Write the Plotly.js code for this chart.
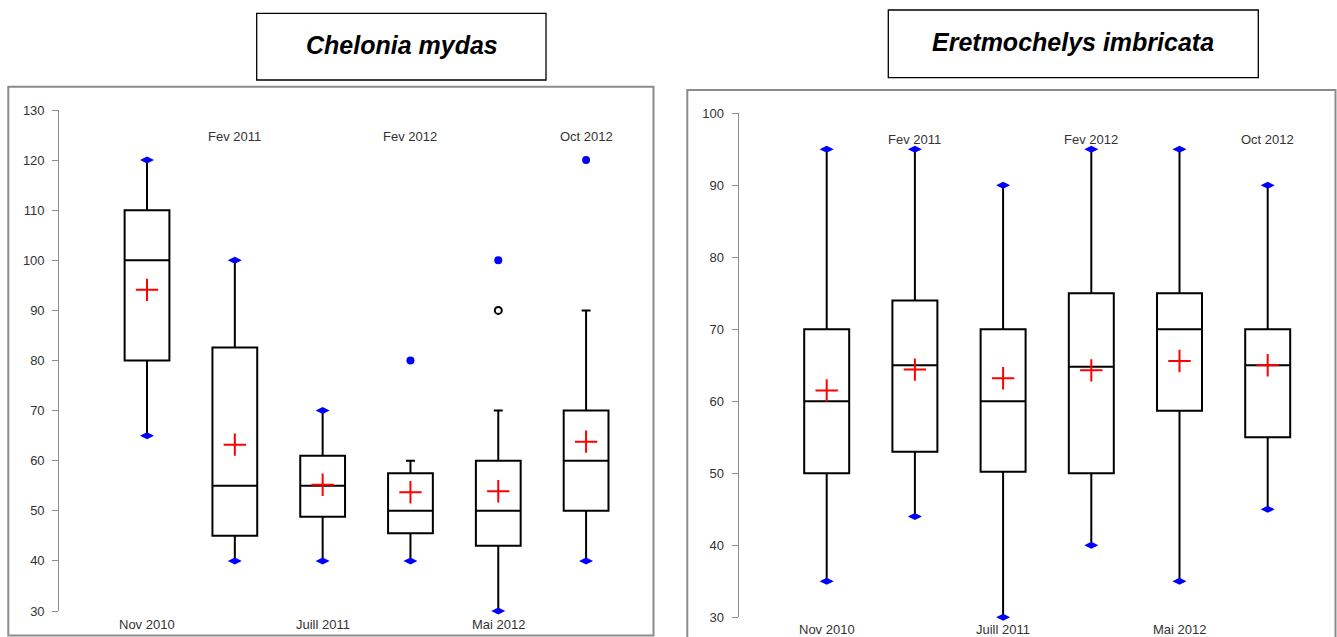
<!DOCTYPE html>
<html>
<head>
<meta charset="utf-8">
<script src="https://cdn.plot.ly/plotly-3.0.1.min.js"></script>
<style>
  html, body { margin: 0; padding: 0; background: #ffffff; }
  #chart { width: 1337px; height: 637px; }
</style>
</head>
<body>
<div id="chart"></div>
<script>
// ---------- DATA ----------
const categories = ['Nov 2010', 'Fev 2011', 'Juill 2011', 'Fev 2012', 'Mai 2012', 'Oct 2012'];

// Chelonia mydas
const cmTitle = 'Chelonia mydas';
const cmLowerWhisker = [65, 40, 40, 40, 30, 40];
const cmQ1           = [80, 45, 48.8, 45.5, 43, 50];
const cmMedian       = [100, 55, 55, 50, 50, 60];
const cmQ3           = [110, 82.6, 61, 57.5, 60, 70];
const cmUpperWhisker = [120, 100, 70, 60, 70, 90];
const cmMean         = [94.1, 63.2, 55.2, 53.7, 53.9, 63.8];
const cmMinMarker    = [65, 40, 40, 40, 30, 40];
const cmMaxMarker    = [120, 100, 70, null, null, null];
const cmOutlierCat   = ['Fev 2012', 'Mai 2012', 'Oct 2012'];
const cmOutlierVal   = [80, 100, 120];
const cmOpenOutCat   = ['Mai 2012'];
const cmOpenOutVal   = [90];
const cmTicks        = [30, 40, 50, 60, 70, 80, 90, 100, 110, 120, 130];

// Eretmochelys imbricata
const eiTitle = 'Eretmochelys imbricata';
const eiLowerWhisker = [35, 44, 30, 40, 35, 45];
const eiQ1           = [50, 53, 50.2, 50, 58.7, 55];
const eiMedian       = [60, 65, 60, 64.8, 70, 65];
const eiQ3           = [70, 74, 70, 75, 75, 70];
const eiUpperWhisker = [95, 95, 90, 95, 95, 90];
const eiMean         = [61.5, 64.4, 63.2, 64.3, 65.6, 65];
const eiMinMarker    = [35, 44, 30, 40, 35, 45];
const eiMaxMarker    = [95, 95, 90, 95, 95, 90];
const eiTicks        = [30, 40, 50, 60, 70, 80, 90, 100];

// ---------- LAYOUT HELPERS ----------
const W = 1337, H = 637;
const px = v => v / W;
const py = v => 1 - v / H;
const idx = categories.map((c, i) => i);
const catIndex = c => categories.indexOf(c);
const FONT = '"Liberation Sans", Arial, sans-serif';

function boxTrace(q1, med, q3, lo, hi, xa, ya) {
  return {
    type: 'box', x: idx, q1: q1, median: med, q3: q3,
    lowerfence: lo, upperfence: hi,
    width: 0.51, whiskerwidth: 0.2, boxpoints: false,
    line: { color: '#000000', width: 2 },
    fillcolor: 'rgba(255,255,255,0)',
    xaxis: xa, yaxis: ya, showlegend: false, hoverinfo: 'skip'
  };
}
function markerTrace(xs, ys, marker, xa, ya) {
  return { type: 'scatter', mode: 'markers', x: xs, y: ys, marker: marker,
           xaxis: xa, yaxis: ya, showlegend: false, cliponaxis: false, hoverinfo: 'skip' };
}
const diamond = { symbol: 'diamond-wide', size: 10, color: '#0000ff' };
const meanMk  = { symbol: 'cross-thin', size: 16, color: '#ff0000', line: { color: '#ff0000', width: 2 } };
const dotMk   = { symbol: 'circle', size: 8, color: '#0000ff' };
const openMk  = { symbol: 'circle-open', size: 7, color: '#000000', line: { color: '#000000', width: 2 } };

const data = [
  boxTrace(cmQ1, cmMedian, cmQ3, cmLowerWhisker, cmUpperWhisker, 'x', 'y'),
  markerTrace(idx, cmMinMarker, diamond, 'x', 'y'),
  markerTrace(idx, cmMaxMarker, diamond, 'x', 'y'),
  markerTrace(cmOutlierCat.map(catIndex), cmOutlierVal, dotMk, 'x', 'y'),
  markerTrace(cmOpenOutCat.map(catIndex), cmOpenOutVal, openMk, 'x', 'y'),
  markerTrace(idx, cmMean, meanMk, 'x', 'y'),

  boxTrace(eiQ1, eiMedian, eiQ3, eiLowerWhisker, eiUpperWhisker, 'x2', 'y2'),
  markerTrace(idx, eiMinMarker, diamond, 'x2', 'y2'),
  markerTrace(idx, eiMaxMarker, diamond, 'x2', 'y2'),
  markerTrace(idx, eiMean, meanMk, 'x2', 'y2')
];

function xAxis(d0, d1, anchor) {
  return { domain: [px(d0), px(d1)], range: [-1, 5.5], anchor: anchor,
           showline: false, showgrid: false, zeroline: false, showticklabels: false, ticks: '' , fixedrange: true };
}
function yAxis(top, bottom, range, ticks, anchor) {
  return { domain: [py(bottom), py(top)], range: range, anchor: anchor,
           tickvals: ticks, ticktext: ticks.map(String),
           showline: true, linecolor: '#8c8c8c', linewidth: 1,
           ticks: 'outside', ticklen: 6, tickcolor: '#8c8c8c', tickwidth: 1,
           ticklabelstandoff: 5,
           showgrid: false, zeroline: false,
           tickfont: { family: FONT, size: 13, color: '#333333' }, fixedrange: true };
}

const annotations = [];
categories.forEach((c, i) => {
  const top = i % 2 === 1;
  annotations.push({ xref: 'x', yref: 'paper', x: i, y: top ? py(136) : py(624),
    text: c, showarrow: false, yanchor: 'middle', xanchor: 'center',
    font: { family: FONT, size: 13, color: '#333333' } });
  annotations.push({ xref: 'x2', yref: 'paper', x: i, y: top ? py(139) : py(629.5),
    text: c, showarrow: false, yanchor: 'middle', xanchor: 'center',
    font: { family: FONT, size: 13, color: '#333333' } });
});
annotations.push({ xref: 'paper', yref: 'paper', x: px(401.5), y: py(45), text: '<b><i>' + cmTitle + '</i></b>',
  showarrow: false, xanchor: 'center', yanchor: 'middle', font: { family: FONT, size: 25, color: '#000000' } });
annotations.push({ xref: 'paper', yref: 'paper', x: px(1073.3), y: py(42), text: '<b><i>' + eiTitle + '</i></b>',
  showarrow: false, xanchor: 'center', yanchor: 'middle', font: { family: FONT, size: 25, color: '#000000' } });

const shapes = [
  { type: 'rect', xref: 'paper', yref: 'paper', x0: px(8.3), x1: px(653.5), y0: py(635.5), y1: py(86.7),
    line: { color: '#8c8c8c', width: 2 }, fillcolor: 'rgba(0,0,0,0)', layer: 'below' },
  { type: 'rect', xref: 'paper', yref: 'paper', x0: px(687.3), x1: px(1335.5), y0: py(640), y1: py(90),
    line: { color: '#8c8c8c', width: 2 }, fillcolor: 'rgba(0,0,0,0)', layer: 'below' },
  { type: 'rect', xref: 'paper', yref: 'paper', x0: px(256.7), x1: px(546), y0: py(80), y1: py(13.3),
    line: { color: '#000000', width: 1.3 }, fillcolor: '#ffffff', layer: 'below' },
  { type: 'rect', xref: 'paper', yref: 'paper', x0: px(888.3), x1: px(1258.3), y0: py(77.7), y1: py(10),
    line: { color: '#000000', width: 1.3 }, fillcolor: '#ffffff', layer: 'below' }
];

const layout = {
  width: W, height: H,
  margin: { l: 0, r: 0, t: 0, b: 0, pad: 0 },
  paper_bgcolor: '#ffffff', plot_bgcolor: 'rgba(0,0,0,0)',
  showlegend: false, boxmode: 'overlay',
  xaxis: xAxis(59.2, 630, 'y'),
  yaxis: yAxis(110, 611, [30, 130], cmTicks, 'x'),
  xaxis2: xAxis(738.5, 1311.8, 'y2'),
  yaxis2: yAxis(113.3, 617.3, [30, 100], eiTicks, 'x2'),
  annotations: annotations,
  shapes: shapes
};

Plotly.newPlot('chart', data, layout, { displayModeBar: false, staticPlot: true });
</script>
</body>
</html>
